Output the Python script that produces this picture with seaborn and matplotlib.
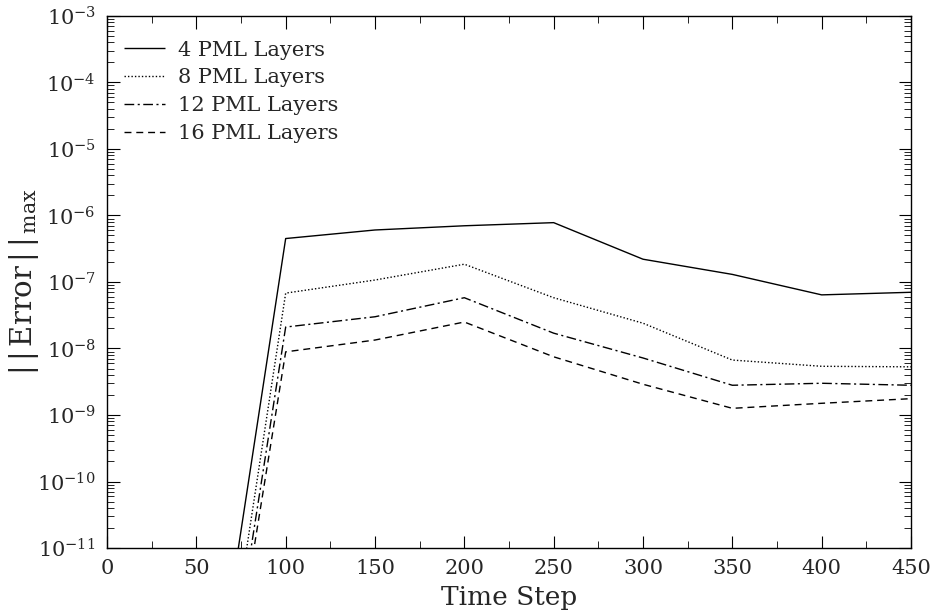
import matplotlib
matplotlib.use("Agg")
import matplotlib.pyplot as plt
from matplotlib.ticker import LogLocator, MultipleLocator, NullFormatter, FixedLocator
import numpy as np
import pandas as pd
import seaborn as sns

# ---- data ----
time_steps = [0, 50, 100, 150, 200, 250, 300, 350, 400, 450]
err_4 = [7.4e-16, 7.4e-16, 4.5e-7, 6.05e-7, 7.0e-7, 7.8e-7, 2.2e-7, 1.3e-7, 6.4e-8, 7.0e-8]
err_8 = [1.1e-16, 1.1e-16, 6.8e-8, 1.07e-7, 1.85e-7, 5.8e-8, 2.4e-8, 6.7e-9, 5.4e-9, 5.3e-9]
err_12 = [5.6e-17, 5.6e-17, 2.1e-8, 3.0e-8, 5.8e-8, 1.7e-8, 7.2e-9, 2.8e-9, 3.0e-9, 2.8e-9]
err_16 = [4.2e-17, 4.2e-17, 8.9e-9, 1.34e-8, 2.5e-8, 7.5e-9, 2.9e-9, 1.26e-9, 1.5e-9, 1.76e-9]
series_labels = ["4 PML Layers", "8 PML Layers", "12 PML Layers", "16 PML Layers"]
y_major_ticks = [1e-11, 1e-10, 1e-9, 1e-8, 1e-7, 1e-6, 1e-5, 1e-4, 1e-3]
x_major_ticks = [0, 50, 100, 150, 200, 250, 300, 350, 400, 450]

sns.set_theme(style="ticks")
plt.rcParams['font.family'] = ['DejaVu Serif']
plt.rcParams['mathtext.fontset'] = 'dejavuserif'
plt.rcParams['axes.unicode_minus'] = False

frames = []
for lab, vals in zip(series_labels, [err_4, err_8, err_12, err_16]):
    frames.append(pd.DataFrame({"Time Step": time_steps, "Error": vals, "Series": lab}))
df = pd.concat(frames, ignore_index=True)

fig = plt.figure(figsize=(9.33, 6.13), dpi=100)
ax = fig.add_axes([0.1147, 0.106, 0.8617, 0.868])

styles = {
    "4 PML Layers": (0, ()),
    "8 PML Layers": (0, (1, 1.5)),
    "12 PML Layers": (0, (7, 2.5, 1.5, 2.5)),
    "16 PML Layers": (0, (5, 3.5)),
}
for lab in series_labels:
    sub = df[df["Series"] == lab]
    sns.lineplot(data=sub, x="Time Step", y="Error", ax=ax, color="black",
                 linewidth=1.0, label=lab, linestyle="-")
    ax.lines[-1].set_linestyle(styles[lab])

ax.set_yscale("log")
ax.set_xlim(0, 450)
ax.set_ylim(1e-11, 1e-3)

ax.xaxis.set_major_locator(FixedLocator(x_major_ticks))
ax.xaxis.set_minor_locator(MultipleLocator(25))
ax.yaxis.set_major_locator(FixedLocator(y_major_ticks))
ax.yaxis.set_minor_locator(LogLocator(base=10, subs=np.arange(2, 10), numticks=100))
ax.yaxis.set_minor_formatter(NullFormatter())

ax.tick_params(which="both", direction="in", top=True, right=True, color="black")
ax.tick_params(which="major", length=9, width=0.8, labelsize=15, pad=8)
ax.tick_params(which="minor", length=5, width=0.6)
for s in ax.spines.values():
    s.set_color("black")
    s.set_linewidth(1.0)

ax.set_xlabel("Time Step", fontsize=19, labelpad=5)
ax.set_ylabel(r'$|\,|\,\mathrm{Error}\,|\,|_{\,\mathrm{max}}$', fontsize=21)
ax.yaxis.set_label_coords(-0.082, 0.5)

leg = ax.legend(loc="upper left", bbox_to_anchor=(0.0, 0.985), frameon=False,
                fontsize=15, handlelength=2.0, handletextpad=0.6,
                labelspacing=0.42, borderaxespad=0.4)
for h, lab in zip(leg.get_lines(), series_labels):
    h.set_linestyle(styles[lab])
    h.set_color("black")
    h.set_linewidth(1.0)

fig.savefig("out.png", dpi=100)
